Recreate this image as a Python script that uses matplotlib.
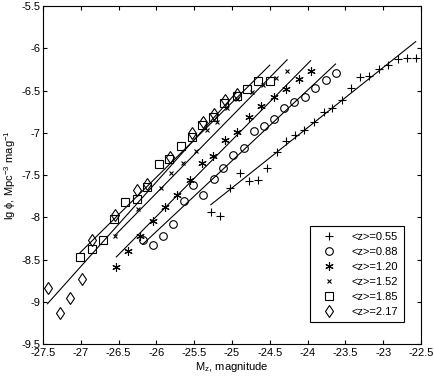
import numpy as np
import matplotlib
matplotlib.use('Agg')
from matplotlib import pyplot as plt
from matplotlib.ticker import FormatStrFormatter, MultipleLocator

plt.rcParams['font.family'] = ['Liberation Sans', 'DejaVu Sans']
plt.rcParams['mathtext.fontset'] = 'custom'
plt.rcParams['mathtext.rm'] = 'Liberation Sans'
plt.rcParams['mathtext.it'] = 'Liberation Sans'

# <z>=0.55  (+)
mz_055 = [-25.28, -25.16, -25.02, -24.90, -24.78, -24.66, -24.54, -24.41,
          -24.28, -24.17, -24.05, -23.92, -23.78, -23.68, -23.54, -23.42,
          -23.31, -23.19, -23.06, -22.94, -22.81, -22.68, -22.57]
phi_055 = [-7.93, -7.98, -7.65, -7.47, -7.57, -7.56, -7.42, -7.22,
           -7.10, -7.03, -6.97, -6.87, -6.75, -6.71, -6.61, -6.47,
           -6.34, -6.33, -6.24, -6.20, -6.12, -6.11, -6.11]
# <z>=0.88  (o)
mz_088 = [-26.18, -26.05, -25.91, -25.78, -25.64, -25.52, -25.38, -25.24,
          -25.12, -24.98, -24.84, -24.71, -24.58, -24.45, -24.31, -24.18,
          -24.04, -23.90, -23.76, -23.63]
phi_088 = [-8.27, -8.33, -8.22, -8.08, -7.81, -7.62, -7.73, -7.54,
           -7.41, -7.26, -7.18, -6.98, -6.92, -6.83, -6.71, -6.63,
           -6.58, -6.47, -6.37, -6.29]
# <z>=1.20  (*)
mz_120 = [-26.53, -26.37, -26.22, -26.05, -25.89, -25.73, -25.56, -25.40,
          -25.25, -25.09, -24.93, -24.77, -24.62, -24.45, -24.28, -24.12,
          -23.96]
phi_120 = [-8.585, -8.40, -8.22, -8.04, -7.87, -7.73, -7.56, -7.36,
           -7.27, -7.08, -6.99, -6.81, -6.68, -6.58, -6.48, -6.36,
           -6.27]
# <z>=1.52  (x)
mz_152 = [-26.55, -26.24, -25.94, -25.80, -25.65, -25.48, -25.33, -25.20,
          -25.06, -24.94, -24.74, -24.59, -24.42, -24.27]
phi_152 = [-8.22, -7.90, -7.65, -7.47, -7.35, -7.21, -6.97, -6.87,
           -6.71, -6.60, -6.51, -6.43, -6.35, -6.27]
# <z>=1.85  (square)
mz_185 = [-27.01, -26.855, -26.70, -26.557, -26.41, -26.26, -26.12, -25.97,
          -25.83, -25.68, -25.53, -25.39, -25.25, -25.11, -24.94, -24.80,
          -24.65, -24.50]
phi_185 = [-8.47, -8.375, -8.27, -8.02, -7.82, -7.785, -7.645, -7.37,
           -7.31, -7.16, -7.05, -6.91, -6.81, -6.64, -6.56, -6.48,
           -6.39, -6.38]
# <z>=2.17  (diamond)
mz_217 = [-27.44, -27.28, -27.14, -26.99, -26.855, -26.55, -26.26, -26.12,
          -25.82, -25.53, -25.38, -25.24, -25.09, -24.94]
phi_217 = [-8.83, -9.13, -8.955, -8.73, -8.27, -7.965, -7.68, -7.60,
           -7.28, -7.00, -6.87, -6.78, -6.61, -6.54]

labels = ['<z>=0.55', '<z>=0.88', '<z>=1.20', '<z>=1.52', '<z>=1.85', '<z>=2.17']
# linear fits lg phi = a*M + b
fit_slope = [0.712, 0.836, 0.903, 0.912, 0.884, 1.0]
fit_icpt = [10.15, 13.57, 15.49, 16.00, 15.46, 18.42]

xs = [mz_055, mz_088, mz_120, mz_152, mz_185, mz_217]
ys = [phi_055, phi_088, phi_120, phi_152, phi_185, phi_217]
# matlab-like markers; (6, 2, 0) is an asterisk
markers = ['+', 'o', (6, 2, 0), 'x', 's', 'd']
msizes = [6, 5.5, 6, 3.5, 6, 6.5]

fig = plt.figure(figsize=(4.34, 3.83), dpi=100)
ax = fig.add_axes([0.099, 0.101, 0.871, 0.883])

for x, y, m, ms, lab, a, b in zip(xs, ys, markers, msizes, labels,
                                   fit_slope, fit_icpt):
    ax.plot(x, y, linestyle='none', marker=m, ms=ms, mfc='none',
            mec='k', mew=0.8, label=lab)
    xl = np.array([min(x), max(x)])
    ax.plot(xl, a * xl + b, color='k', lw=0.8)

ax.set_xlim(-27.5, -22.5)
ax.set_ylim(-9.5, -5.5)
ax.xaxis.set_major_locator(MultipleLocator(0.5))
ax.yaxis.set_major_locator(MultipleLocator(0.5))
ax.xaxis.set_major_formatter(FormatStrFormatter('%g'))
ax.yaxis.set_major_formatter(FormatStrFormatter('%g'))
ax.tick_params(direction='in', top=True, right=True, labelsize=8,
               length=3, width=0.8)
ax.tick_params(axis='x', pad=3)
ax.tick_params(axis='y', pad=2)
for sp in ax.spines.values():
    sp.set_linewidth(0.8)

ax.set_xlabel(r'M$_\mathregular{z}$, magnitude', fontsize=8, labelpad=1)
ax.set_ylabel(r'lg $\mathregular{\phi}$, Mpc$^\mathregular{-3}$ mag$^\mathregular{-1}$',
              fontsize=8, labelpad=2)

leg = ax.legend(loc='lower right', bbox_to_anchor=(0.955, 0.065),
                borderaxespad=0, fontsize=8, fancybox=False,
                edgecolor='k', framealpha=1, handlelength=2.5,
                labelspacing=0.45, borderpad=0.5)
leg.get_frame().set_linewidth(0.8)

fig.savefig('out.png', dpi=100)
